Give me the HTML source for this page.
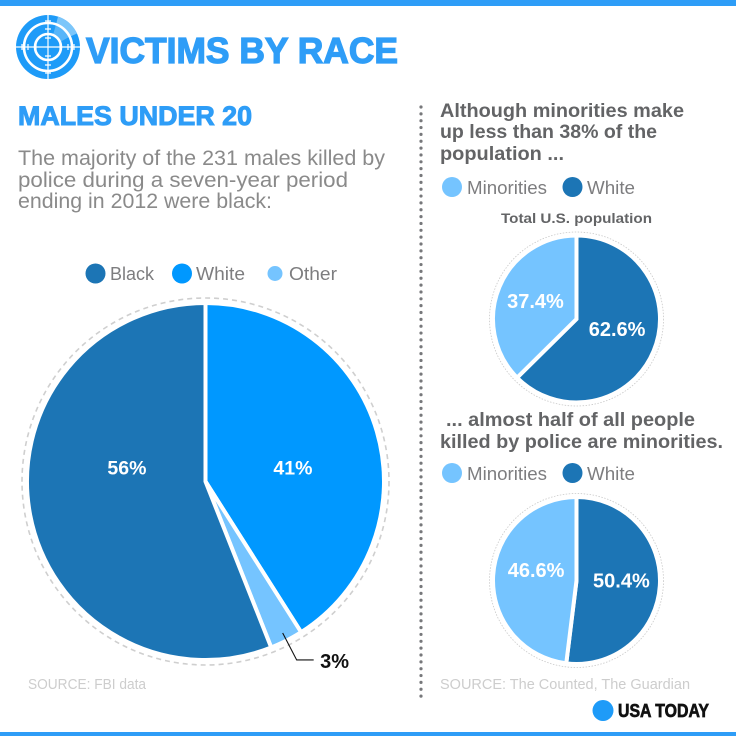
<!DOCTYPE html>
<html lang="en">
<head>
<meta charset="utf-8">
<title>Victims by race</title>
<style>
html,body{margin:0;padding:0;background:#fff;}
svg{display:block;font-family:"Liberation Sans",sans-serif;}
.h{font-weight:700;fill:#636466;font-size:19px;}
.b{fill:#8a8a8a;font-size:21px;}
.l{fill:#7d7d7f;font-size:18px;}
.s{fill:#cdcdcd;font-size:14.5px;}
.v{font-weight:700;fill:#fff;text-anchor:middle;}
</style>
</head>
<body>
<svg id="chart" width="736" height="736" viewBox="0 0 736 736" xmlns="http://www.w3.org/2000/svg">
  <rect width="736" height="736" fill="#fff"/>
  <rect width="736" height="6" fill="#2e9df7"/>
  <rect y="732" width="736" height="4" fill="#2e9df7"/>

  <g>
    <circle cx="48" cy="47" r="32" fill="#1e9bf8"/>
    <path d="M58 16.6 A32 32 0 0 1 77 33.5 L69 37 A24 24 0 0 0 56 24.5 Z" fill="#7cc6fa"/>
    <path d="M56 24.5 A24 24 0 0 1 69 37 L60 42 A13 13 0 0 0 53 35 Z" fill="#58b5f9"/>
    <g fill="none" stroke="#fff">
      <circle cx="48" cy="47" r="24" stroke-width="2.6"/>
      <circle cx="48" cy="47" r="13" stroke-width="2.6"/>
      <path d="M16 47H80M48 15V79" stroke-width="1.2"/>
      <path d="M22 44V50M28 44V50M36 44V50M60 44V50M68 44V50M74 44V50M45 21H51M45 29H51M45 38H51M45 56H51M45 65H51M45 73H51" stroke-width="1.2"/>
    </g>
  </g>
  <text x="86" y="63" font-size="36" font-weight="700" fill="#2e9df7" stroke="#2e9df7" stroke-width="1.3" textLength="312" lengthAdjust="spacingAndGlyphs">VICTIMS BY RACE</text>
  <text x="18" y="125" font-size="27" font-weight="700" fill="#2e9df7" stroke="#2e9df7" stroke-width="1" textLength="234" lengthAdjust="spacingAndGlyphs">MALES UNDER 20</text>
  <g class="b">
    <text x="18" y="165" textLength="367" lengthAdjust="spacingAndGlyphs">The majority of the 231 males killed by</text>
    <text x="18" y="187" textLength="330" lengthAdjust="spacingAndGlyphs">police during a seven-year period</text>
    <text x="18" y="208" textLength="254" lengthAdjust="spacingAndGlyphs">ending in 2012 were black:</text>
  </g>

  <g class="l">
    <circle cx="95.5" cy="273.5" r="10" fill="#1c75b5"/>
    <text x="110" y="280" textLength="44" lengthAdjust="spacingAndGlyphs">Black</text>
    <circle cx="182" cy="273.5" r="10" fill="#0098ff"/>
    <text x="196" y="280" textLength="49" lengthAdjust="spacingAndGlyphs">White</text>
    <circle cx="275" cy="273.5" r="7.5" fill="#75c4ff"/>
    <text x="289" y="280" textLength="48" lengthAdjust="spacingAndGlyphs">Other</text>
  </g>

  <text class="s" x="28" y="689" textLength="118" lengthAdjust="spacingAndGlyphs">SOURCE: FBI data</text>

  <g id="divider"></g>

  <g class="h">
    <text x="440" y="117" textLength="244" lengthAdjust="spacingAndGlyphs">Although minorities make</text>
    <text x="440" y="138" textLength="217" lengthAdjust="spacingAndGlyphs">up less than 38% of the</text>
    <text x="440" y="160" textLength="124" lengthAdjust="spacingAndGlyphs">population ...</text>
  </g>
  <g class="l">
    <circle cx="452" cy="187" r="10" fill="#75c4ff"/>
    <text x="467" y="194" textLength="80" lengthAdjust="spacingAndGlyphs">Minorities</text>
    <circle cx="572.5" cy="187" r="10" fill="#1c75b5"/>
    <text x="587" y="194" textLength="48" lengthAdjust="spacingAndGlyphs">White</text>
  </g>
  <text x="501" y="223" font-size="13.5" font-weight="700" fill="#636466" textLength="151" lengthAdjust="spacingAndGlyphs">Total U.S. population</text>

  <g class="h">
    <text x="446" y="426" textLength="249" lengthAdjust="spacingAndGlyphs">... almost half of all people</text>
    <text x="440" y="448" textLength="283" lengthAdjust="spacingAndGlyphs">killed by police are minorities.</text>
  </g>
  <g class="l">
    <circle cx="452" cy="473" r="10" fill="#75c4ff"/>
    <text x="467" y="480" textLength="80" lengthAdjust="spacingAndGlyphs">Minorities</text>
    <circle cx="572.5" cy="473" r="10" fill="#1c75b5"/>
    <text x="587" y="480" textLength="48" lengthAdjust="spacingAndGlyphs">White</text>
  </g>

  <text class="s" x="440" y="689" textLength="250" lengthAdjust="spacingAndGlyphs">SOURCE: The Counted, The Guardian</text>

  <g>
    <circle cx="603" cy="710.5" r="10.5" fill="#1e9bf8"/>
    <text x="618" y="717" font-size="18" font-weight="700" fill="#111" stroke="#111" stroke-width="0.7" textLength="91" lengthAdjust="spacingAndGlyphs">USA TODAY</text>
  </g>
</svg>
<script>
// Chart data
const mainCategories = ['White', 'Other', 'Black'];
const mainValues = [41, 3, 56];
const mainLabels = ['41%', '3%', '56%'];

const populationCategories = ['White', 'Minorities'];
const populationValues = [62.6, 37.4];
const populationLabels = ['62.6%', '37.4%'];

const killedCategories = ['White', 'Minorities'];
const killedValues = [50.4, 46.6];
const killedLabels = ['50.4%', '46.6%'];

const NS = 'http://www.w3.org/2000/svg';
const svg = document.getElementById('chart');

function make(tag, attrs, parent) {
  const el = document.createElementNS(NS, tag);
  for (const k in attrs) el.setAttribute(k, attrs[k]);
  parent.appendChild(el);
  return el;
}
function polar(c, r, deg) {
  const a = deg * Math.PI / 180;
  return [c[0] + r * Math.sin(a), c[1] - r * Math.cos(a)];
}
function angleScale(values) {
  const total = values.reduce((s, v) => s + v, 0);
  let run = 0;
  return values.map(v => {
    const start = run / total * 360;
    run += v;
    return [start, run / total * 360];
  });
}
function slicePath(c, r, a0, a1) {
  const p0 = polar(c, r, a0), p1 = polar(c, r, a1);
  const large = a1 - a0 > 180 ? 1 : 0;
  return 'M' + c[0] + ' ' + c[1] + 'L' + p0[0] + ' ' + p0[1] + 'A' + r + ' ' + r + ' 0 ' + large + ' 1 ' + p1[0] + ' ' + p1[1] + 'Z';
}
function drawPie(cfg) {
  const g = make('g', {}, svg);
  
  
  const ring = make('circle', {cx: cfg.c[0], cy: cfg.c[1], r: cfg.ringR, fill: 'none', stroke: cfg.ringColor, 'stroke-width': cfg.ringW, 'stroke-dasharray': cfg.ringDash}, g);
  
  
  const angles = angleScale(cfg.values);
  angles.forEach((a, i) => {
    const path = make('path', {d: slicePath(cfg.c, cfg.r, a[0], a[1]), fill: cfg.colors[i], stroke: '#fff', 'stroke-width': cfg.gap, 'stroke-linejoin': 'miter'}, g);
    
    
  });
  angles.forEach((a, i) => {
    const n = cfg.nudge[i];
    if (!n) return;
    const p = polar(cfg.c, n[0], (a[0] + a[1]) / 2);
    const t = make('text', {x: p[0] + n[1], y: p[1] + n[2], class: 'v', 'font-size': cfg.labelSize, 'dominant-baseline': 'central'}, g);
    
    
    t.textContent = cfg.labels[i];
  });
  return angles;
}

// Dotted column divider
const divider = document.getElementById('divider');
for (let y = 107; y <= 701; y += 6.85) {
  const dot = make('circle', {cx: 421, cy: y, r: 1.6, fill: '#77787b'}, divider);
  
  
}

// Main pie
const mainCenter = [205.5, 481.5];
const mainAngles = drawPie({
  name: 'males-under-20-pie', c: mainCenter, r: 178.5, gap: 4,
  ringR: 183.5, ringW: 1.6, ringColor: '#cfcfcf', ringDash: '5 4',
  categories: mainCategories, values: mainValues, labels: mainLabels,
  colors: ['#0098ff', '#75c4ff', '#1c75b5'],
  labelSize: 19.5,
  nudge: [[90, 1, 12], null, [80, 0, -28]]
});

// Callout for the small slice
const otherMid = (mainAngles[1][0] + mainAngles[1][1]) / 2;
const lead = polar(mainCenter, 170, otherMid);
const leader = make('path', {d: 'M' + lead[0] + ' ' + lead[1] + 'l14 27h17', fill: 'none', stroke: '#111', 'stroke-width': 1.1}, svg);


const callout = make('text', {x: lead[0] + 37.5, y: lead[1] + 35, 'font-size': 20, 'font-weight': 700, fill: '#111'}, svg);


callout.textContent = mainLabels[1];

// Small pies
drawPie({
  name: 'total-population-pie', c: [576.5, 319], r: 83.5, gap: 4,
  ringR: 87, ringW: 0.8, ringColor: '#c9c9c9', ringDash: '1.5 1.5',
  categories: populationCategories, values: populationValues, labels: populationLabels,
  colors: ['#1c75b5', '#75c4ff'],
  labelSize: 20,
  nudge: [[44, 0, -6], [44.5, 0, 0]]
});
drawPie({
  name: 'people-killed-pie', c: [576.5, 580.5], r: 83.5, gap: 4,
  ringR: 87, ringW: 0.8, ringColor: '#c9c9c9', ringDash: '1.5 1.5',
  categories: killedCategories, values: killedValues, labels: killedLabels,
  colors: ['#1c75b5', '#75c4ff'],
  labelSize: 20,
  nudge: [[45, 0, -2], [41, 0.5, -7]]
});
</script>
</body>
</html>
